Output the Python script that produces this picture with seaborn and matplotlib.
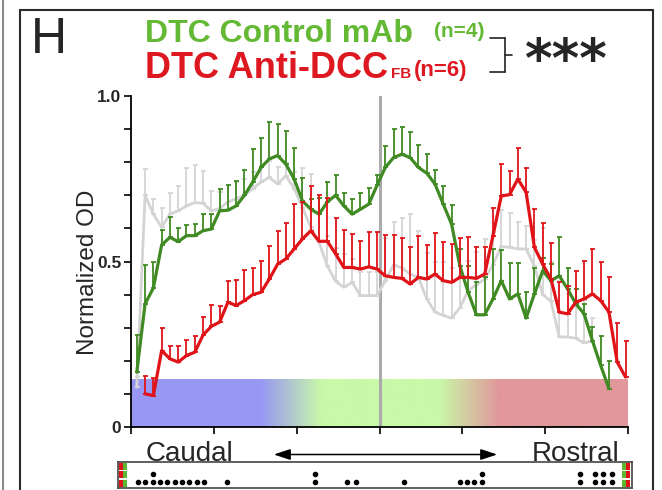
import numpy as np
import matplotlib
matplotlib.use("Agg")
import matplotlib.pyplot as plt
import seaborn as sns
from matplotlib.colors import LinearSegmentedColormap
from matplotlib.lines import Line2D
from matplotlib.patches import FancyArrowPatch, Rectangle

# ---------------- data ----------------
green_mean = [0.166, 0.372, 0.42, 0.55, 0.573, 0.56, 0.578, 0.578, 0.593, 0.598,
              0.653, 0.655, 0.668, 0.70, 0.74, 0.784, 0.81, 0.82, 0.794, 0.749,
              0.683, 0.658, 0.643, 0.68, 0.70, 0.668, 0.643, 0.658, 0.673, 0.73,
              0.784, 0.814, 0.824, 0.814, 0.784, 0.767, 0.734, 0.673, 0.613, 0.487,
              0.407, 0.339, 0.339, 0.387, 0.442, 0.387, 0.402, 0.329, 0.402, 0.472,
              0.442, 0.457, 0.417, 0.372, 0.342, 0.261, 0.186, 0.116]
green_err = [0.112, 0.118, 0.08, 0.045, 0.06, 0.04, 0.032, 0.035, 0.05, 0.045,
             0.067, 0.075, 0.076, 0.077, 0.10, 0.088, 0.11, 0.095, 0.10, 0.093,
             0.07, 0.03, 0.05, 0.06, 0.06, 0.04, 0.045, 0.05, 0.05, 0.03,
             0.066, 0.086, 0.082, 0.078, 0.067, 0.057, 0.043, 0.054, 0.057, 0.05,
             0.08, 0.098, 0.113, 0.15, 0.094, 0.108, 0.092, 0.078, 0.078, 0.04,
             0.05, 0.118, 0.063, 0.045, 0.03, 0.04, 0.088, 0.084]
red_mean = [0.10, 0.095, 0.231, 0.206, 0.196, 0.216, 0.226, 0.278, 0.304, 0.317,
            0.377, 0.367, 0.382, 0.40, 0.407, 0.447, 0.492, 0.508, 0.538, 0.568,
            0.593, 0.561, 0.561, 0.523, 0.482, 0.482, 0.477, 0.484, 0.477, 0.457,
            0.452, 0.449, 0.432, 0.452, 0.447, 0.462, 0.442, 0.437, 0.452, 0.452,
            0.449, 0.462, 0.578, 0.698, 0.702, 0.749, 0.709, 0.543, 0.492, 0.447,
            0.347, 0.342, 0.377, 0.387, 0.402, 0.382, 0.347, 0.196, 0.151]
red_err = [0.053, 0.053, 0.067, 0.038, 0.048, 0.048, 0.05, 0.054, 0.065, 0.048,
           0.063, 0.077, 0.092, 0.08, 0.096, 0.10, 0.10, 0.107, 0.135, 0.112,
           0.136, 0.139, 0.132, 0.108, 0.114, 0.10, 0.086, 0.106, 0.113, 0.123,
           0.128, 0.121, 0.111, 0.126, 0.103, 0.124, 0.118, 0.116, 0.119, 0.121,
           0.094, 0.081, 0.083, 0.096, 0.072, 0.093, 0.072, 0.115, 0.124, 0.108,
           0.09, 0.083, 0.095, 0.116, 0.136, 0.115, 0.107, 0.118, 0.109]
gray_mean = [0.12, 0.70, 0.643, 0.603, 0.643, 0.653, 0.668, 0.678, 0.676, 0.653,
             0.66, 0.68, 0.69, 0.70, 0.72, 0.74, 0.754, 0.734, 0.759, 0.72,
             0.663, 0.603, 0.558, 0.487, 0.44, 0.422, 0.437, 0.397, 0.397, 0.397,
             0.442, 0.49, 0.48, 0.462, 0.452, 0.387, 0.347, 0.337, 0.329, 0.36,
             0.412, 0.43, 0.447, 0.49, 0.545, 0.543, 0.538, 0.538, 0.486, 0.40,
             0.38, 0.272, 0.272, 0.268, 0.254, 0.26]
gray_err = [0.03, 0.08, 0.047, 0.06, 0.064, 0.074, 0.114, 0.114, 0.098, 0.061,
            0.05, 0.05, 0.05, 0.05, 0.05, 0.05, 0.05, 0.05, 0.04, 0.05,
            0.12, 0.16, 0.09, 0.09, 0.10, 0.10, 0.07, 0.07, 0.07, 0.07,
            0.13, 0.13, 0.15, 0.18, 0.14, 0.14, 0.15, 0.16, 0.15, 0.10,
            0.09, 0.10, 0.12, 0.10, 0.11, 0.105, 0.08, 0.07, 0.08, 0.2,
            0.12, 0.17, 0.13, 0.15, 0.13, 0.07]
green_first, red_first, gray_first = 0, 1, 0   # index of first sampled bin
bin_offset = 0.7                               # bin centre offset on the axis

x_ticks = [0, 10, 20, 30, 40, 50, 60]
y_ticks = [0, 0.5, 1.0]
y_ticklabels = ["0", "0.5", "1.0"]
midline_x = 30

# significance dots (positions along the bottom strip, strip units 0..70)
sig_lower = [2.77, 3.68, 4.73, 5.72, 6.72, 7.77, 8.68, 9.71, 10.72, 11.72, 14.8,
             26.8, 31.2, 32.4, 39.0, 46.6, 47.5, 48.5, 49.55, 62.9, 65.0, 66.1, 67.3]
sig_upper = [4.73, 26.8, 49.55, 62.9, 65.0, 66.1, 67.3]

# ---------------- style ----------------
sns.set_style("white")
plt.rcParams["font.family"] = ["Liberation Sans", "DejaVu Sans"]

W, H = 662, 490
fig = plt.figure(figsize=(W / 100, H / 100), dpi=100)


def fx(px):
    return px / W


def fy(py):
    return 1 - py / H


ax = fig.add_axes([fx(131), fy(427), fx(628) - fx(131), fy(96) - fy(427)])

# coloured band
band_cmap = LinearSegmentedColormap.from_list(
    "band",
    [(0, "#9898f4"), (15.6 / 60, "#9898f4"), (23 / 60, "#c9f8a8"),
     (37.2 / 60, "#c9f8a8"), (44.6 / 60, "#e1979c"), (1, "#e1979c")])
grad = np.linspace(0, 1, 600).reshape(1, -1)
ax.imshow(grad, extent=[0, 60, 0, 0.142], aspect="auto", cmap=band_cmap,
          zorder=0, interpolation="bilinear")

ax.axvline(midline_x, color="#ababab", lw=2.2, zorder=1)


def draw_series(mean, err, first, color, lw, elw, z):
    mean = np.asarray(mean)
    err = np.asarray(err)
    x = np.arange(first, first + len(mean)) + bin_offset
    ax.errorbar(x, mean, yerr=[np.zeros_like(err), err], fmt="none",
                ecolor=color, elinewidth=elw, capsize=1.8, capthick=elw,
                zorder=z)
    sns.lineplot(x=x, y=mean, color=color, lw=lw, ax=ax, zorder=z + 0.5,
                 solid_joinstyle="round", solid_capstyle="round")


draw_series(gray_mean, gray_err, gray_first, "#d4d4d4", 2.0, 1.3, 2)
draw_series(green_mean, green_err, green_first, "#3f8a22", 2.3, 1.3, 4)
draw_series(red_mean, red_err, red_first, "#e01418", 2.3, 1.3, 6)

ax.set_xlim(0, 60)
ax.set_ylim(0, 1)
ax.set_xticks(x_ticks)
ax.set_xticklabels([])
ax.set_yticks(y_ticks)
ax.set_yticklabels(y_ticklabels, fontsize=12.5, fontweight="bold")
ax.set_yticks(np.arange(0, 1.01, 0.1), minor=True)
ax.tick_params(axis="x", which="both", bottom=True, direction="out",
               length=5, width=1.2, color="black")
ax.tick_params(axis="y", which="both", left=True, direction="out",
               length=5, width=1.2, color="black", pad=2)
ax.set_xlabel("")
ax.set_ylabel("")
sns.despine(ax=ax)
for s in ("left", "bottom"):
    ax.spines[s].set_color("black")
    ax.spines[s].set_linewidth(1.3)

fig.text(fx(88), fy(272), "Normalized OD", rotation=90, ha="center",
         va="center", fontsize=17.5)

# panel letter and legend texts
fig.text(fx(31), fy(53), "H", fontsize=36, va="baseline")
fig.text(fx(145), fy(42), "DTC Control mAb", fontsize=23, fontweight="bold",
         color="#63b934", va="baseline")
fig.text(fx(434), fy(37), "(n=4)", fontsize=15, fontweight="bold",
         color="#63b934", va="baseline")
fig.text(fx(145), fy(78), "DTC Anti-DCC", fontsize=26, fontweight="bold",
         color="#de1820", va="baseline")
fig.text(fx(391), fy(78), "FB", fontsize=11, fontweight="bold",
         color="#de1820", va="baseline")
fig.text(fx(414), fy(76), "(n=6)", fontsize=16, fontweight="bold",
         color="#de1820", va="baseline")

# bracket + stars
for (x0, y0, x1, y1) in [(490, 38, 505, 38), (505, 38, 505, 72),
                         (490, 72, 505, 72), (505, 55, 512, 55)]:
    fig.add_artist(Line2D([fx(x0), fx(x1)], [fy(y0), fy(y1)],
                          transform=fig.transFigure, color="#222222", lw=1.2))
fig.text(fx(566), fy(62), "***", fontsize=38, fontweight="heavy",
         family="DejaVu Sans", ha="center", va="center")

# panel frame
for (x0, y0, x1, y1) in [(20, 10, 653, 10), (20, 10, 20, 490),
                         (653, 10, 653, 490)]:
    fig.add_artist(Line2D([fx(x0), fx(x1)], [fy(y0), fy(y1)],
                          transform=fig.transFigure, color="#2a2a2a", lw=1.5))
fig.add_artist(Line2D([fx(3), fx(3)], [0, 1], transform=fig.transFigure,
                      color="#8a8a8a", lw=1.5))

# Caudal / Rostral + arrow
fig.text(fx(189.5), fy(461), "Caudal", fontsize=20, ha="center", va="baseline")
fig.text(fx(576), fy(461), "Rostral", fontsize=20, ha="center", va="baseline")
fig.add_artist(FancyArrowPatch((fx(271), fy(454.5)), (fx(500), fy(454.5)),
                               transform=fig.transFigure,
                               arrowstyle="<|-|>,head_length=1.0,head_width=0.33",
                               mutation_scale=10, lw=1.1, color="black"))

# significance strip
sax = fig.add_axes([fx(118), fy(488), fx(632) - fx(118), fy(462) - fy(488)])
sax.set_xlim(0, 70)
sax.set_ylim(0, 1)
sax.set_xticks([])
sax.set_yticks([])
for s in sax.spines.values():
    s.set_visible(True)
    s.set_color("#444444")
    s.set_linewidth(1.2)
sax.scatter(sig_lower, [0.23] * len(sig_lower), s=9, color="black", zorder=3)
sax.scatter(sig_upper, [0.54] * len(sig_upper), s=9, color="black", zorder=3)
for (xa, xb, c) in [(0.13, 0.68, "#e01418"), (0.68, 1.23, "#5cb830"),
                    (68.6, 69.14, "#5cb830"), (69.14, 69.7, "#e01418")]:
    for (ya, yb) in [(0.05, 0.32), (0.37, 0.64), (0.69, 0.96)]:
        sax.add_patch(Rectangle((xa, ya), xb - xa, yb - ya, color=c, lw=0))

fig.savefig("out.png", dpi=100)
